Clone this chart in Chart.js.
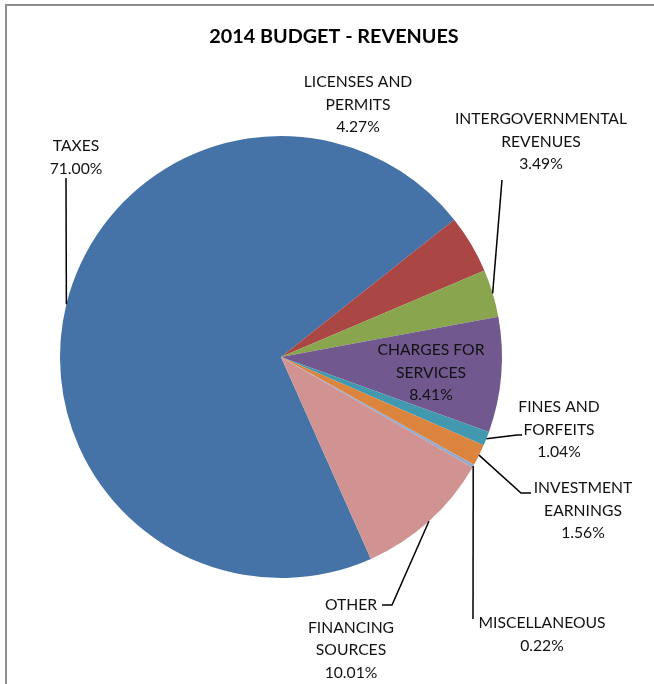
<!DOCTYPE html>
<html>
<head>
<meta charset="utf-8">
<script src="https://cdn.jsdelivr.net/npm/chart.js@4/dist/chart.umd.min.js"></script>
<style>
  html, body { margin: 0; padding: 0; background: #ffffff; }
  #wrap { width: 654px; height: 684px; position: relative; }
</style>
</head>
<body>
<div id="wrap"><canvas id="c" width="654" height="684"></canvas></div>
<script>
// ---- data ----
const chartTitle = "2014 BUDGET - REVENUES";
const categories = [
  ["TAXES"],
  ["LICENSES AND", "PERMITS"],
  ["INTERGOVERNMENTAL", "REVENUES"],
  ["CHARGES FOR", "SERVICES"],
  ["FINES AND", "FORFEITS"],
  ["INVESTMENT", "EARNINGS"],
  ["MISCELLANEOUS"],
  ["OTHER", "FINANCING", "SOURCES"]
];
const percentages = [71.00, 4.27, 3.49, 8.41, 1.04, 1.56, 0.22, 10.01];
const sliceColors = ["#4572A7", "#AA4643", "#89A54E", "#71588F", "#4198AF", "#DB843D", "#93A9CF", "#D19392"];

// ---- label layout (style only) ----
const labelFont = "15.7px Lato, 'Open Sans', sans-serif";
const titleFont = "bold 19.8px Lato, 'Open Sans', sans-serif";
const lineH = 22.5;
const labelLayout = [
  { x: 76,  y: 146, lead: [[66, 178]] },
  { x: 358, y: 82,  lead: null },
  { x: 541, y: 119, lead: [[502, 180]] },
  { x: 431, y: 350, lead: null },
  { x: 559, y: 407, lead: [[517, 435], [522, 435]] },
  { x: 583, y: 488, lead: [[521, 493], [531, 493]] },
  { x: 542, y: 623, lead: [[473, 619]] },
  { x: 351, y: 605, lead: [[392, 605], [382, 605]] }
];

const decor = {
  id: 'decor',
  beforeDraw(chart) {
    const ctx = chart.ctx;
    ctx.save();
    ctx.fillStyle = '#ffffff';
    ctx.fillRect(0, 0, chart.width, chart.height);
    ctx.strokeStyle = '#8e8e8e';
    ctx.lineWidth = 2;
    ctx.beginPath();
    ctx.moveTo(6, chart.height + 2);
    ctx.lineTo(6, 5);
    ctx.lineTo(chart.width + 2, 5);
    ctx.stroke();
    ctx.restore();
  },
  afterDatasetsDraw(chart) {
    const ctx = chart.ctx;
    const meta = chart.getDatasetMeta(0);
    ctx.save();
    // title
    ctx.fillStyle = '#000000';
    ctx.font = titleFont;
    ctx.textAlign = 'center';
    ctx.textBaseline = 'middle';
    ctx.fillText(chartTitle, 334, 37);
    // leaders
    ctx.strokeStyle = '#000000';
    ctx.lineWidth = 1.5;
    meta.data.forEach((arc, i) => {
      const L = labelLayout[i];
      if (!L.lead) return;
      const p = arc.getProps(['x', 'y', 'startAngle', 'endAngle', 'outerRadius'], true);
      const mid = (p.startAngle + p.endAngle) / 2;
      const sx = p.x + Math.cos(mid) * p.outerRadius;
      const sy = p.y + Math.sin(mid) * p.outerRadius;
      ctx.beginPath();
      ctx.moveTo(sx, sy);
      L.lead.forEach(pt => ctx.lineTo(pt[0], pt[1]));
      ctx.stroke();
    });
    // labels
    ctx.font = labelFont;
    ctx.fillStyle = '#111111';
    categories.forEach((lines, i) => {
      const L = labelLayout[i];
      const all = lines.concat([percentages[i].toFixed(2) + '%']);
      all.forEach((t, k) => ctx.fillText(t, L.x, L.y + k * lineH));
    });
    ctx.restore();
  }
};

new Chart(document.getElementById('c'), {
  type: 'pie',
  data: {
    labels: categories,
    datasets: [{
      data: percentages,
      backgroundColor: sliceColors,
      borderWidth: 0
    }]
  },
  options: {
    responsive: false,
    animation: false,
    rotation: 156,
    layout: { padding: { left: 60, right: 152, top: 136, bottom: 106 } },
    plugins: {
      legend: { display: false },
      title: { display: false },
      tooltip: { enabled: false }
    }
  },
  plugins: [decor]
});
</script>
</body>
</html>
